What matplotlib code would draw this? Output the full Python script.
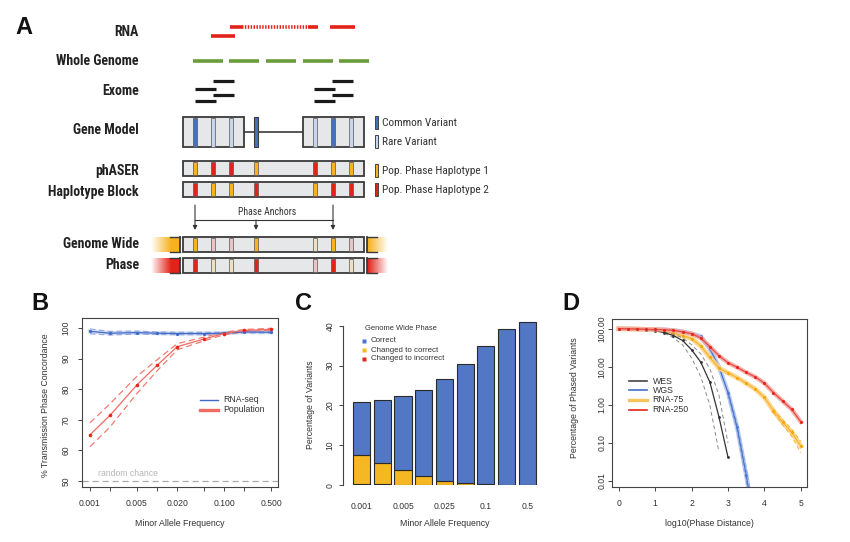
import numpy as np
import matplotlib
matplotlib.use('Agg')
import matplotlib.pyplot as plt
from matplotlib.patches import Rectangle
from matplotlib.ticker import NullLocator
import logging
logging.getLogger('matplotlib.font_manager').setLevel(logging.ERROR)

plt.rcParams['font.family'] = ['Liberation Sans', 'DejaVu Sans']
NARROW = ['Roboto Condensed', 'Liberation Sans Narrow', 'Liberation Sans', 'DejaVu Sans']

# ---------------- data ----------------
# panel A (schematic)
row_labels = ['RNA', 'Whole Genome', 'Exome', 'Gene Model',
              'phASER', 'Haplotype Block', 'Genome Wide', 'Phase']
variant_kind = ['common', 'rare', 'rare', 'common', 'rare', 'common', 'rare']
hap1 = ['O', 'R', 'R', 'O', 'R', 'O', 'O']
hap2 = ['R', 'O', 'O', 'R', 'O', 'R', 'R']
gw1 = ['O', 'r', 'r', 'O', 'o', 'O', 'r']   # lower case = faded
gw2 = ['R', 'o', 'o', 'R', 'r', 'R', 'o']

# panel B
maf_b = [0.001, 0.002, 0.005, 0.01, 0.02, 0.05, 0.1, 0.2, 0.5]
maf_b_labels = ['0.001', '', '0.005', '', '0.020', '', '0.100', '', '0.500']
rna_conc = [98.9, 98.3, 98.5, 98.3, 98.2, 98.2, 98.3, 98.7, 98.6]
rna_ci = [0.8, 0.6, 0.5, 0.4, 0.4, 0.4, 0.3, 0.3, 0.3]
pop_conc = [65.1, 71.5, 81.4, 87.8, 93.9, 96.4, 98.2, 99.2, 99.6]
pop_ci = [3.9, 3.8, 2.8, 1.8, 1.0, 0.6, 0.4, 0.3, 0.3]

# panel C
maf_c = ['0.001', '0.0025', '0.005', '0.01', '0.025', '0.05', '0.1', '0.25', '0.5']
maf_c_shown = ['0.001', '', '0.005', '', '0.025', '', '0.1', '', '0.5']
total_pct = [20.8, 21.4, 22.5, 24.0, 26.7, 30.3, 34.8, 39.2, 40.8]
changed_correct_top = [7.7, 5.7, 3.8, 2.4, 1.2, 0.7, 0.35, 0.1, 0.0]
changed_incorrect = [0.35, 0.25, 0.15, 0.1, 0.05, 0.05, 0.05, 0.05, 0.02]

# panel D
x_dist = [0.0, 0.25, 0.5, 0.75, 1.0, 1.25, 1.5, 1.75, 2.0, 2.25, 2.5,
          2.75, 3.0, 3.25, 3.5, 3.75, 4.0, 4.25, 4.5, 4.75, 5.0]
rna250 = [100, 99, 98, 96.5, 95.5, 94, 90, 83, 74, 57, 34,
          19.5, 12.8, 9.7, 7.1, 5.4, 3.7, 2.1, 1.26, 0.76, 0.36]
rna75 = [100, 99, 97.5, 95.5, 93, 88, 77, 65, 55, 35, 17.7,
         9.3, 6.9, 5.2, 3.7, 2.6, 1.57, 0.70, 0.35, 0.19, 0.083]
x_wes = [0.0, 0.25, 0.5, 0.75, 1.0, 1.25, 1.5, 1.75, 2.0, 2.25, 2.5, 2.75, 3.0]
wes = [100, 99.5, 98, 95, 89, 79, 66, 49, 28, 13.3, 4.0, 0.49, 0.042]
x_wes_lo = [1.25, 1.5, 1.75, 2.0, 2.25, 2.5, 2.75]
wes_lo = [76, 58, 38, 17, 5.5, 1.0, 0.058]
x_wes_hi = [1.25, 1.5, 1.75, 2.0, 2.25, 2.5, 2.75, 3.0]
wes_hi = [82, 72, 58, 38, 22, 9, 1.8, 0.1]
x_wgs = [0.0, 0.25, 0.5, 0.75, 1.0, 1.25, 1.5, 1.75, 2.0, 2.25, 2.5, 2.75, 3.0, 3.25, 3.5, 3.75]
wgs = [100, 99, 98, 96.5, 95.5, 94, 90, 83, 74, 63, 30, 10, 2.1, 0.26, 0.0145, 0.0005]
x_wgs_ci = [3.0, 3.25, 3.5, 3.75]
wgs_lo = [1.8, 0.2, 0.01, 0.0003]
wgs_hi = [2.4, 0.32, 0.022, 0.001]
x_r75_ci = [4.25, 4.5, 4.75, 5.0]
r75_lo = [0.62, 0.3, 0.15, 0.055]
r75_hi = [0.78, 0.41, 0.23, 0.11]

# ---------------- colours ----------------
ORANGE, RED = '#f7b21f', '#e2231a'
FADE = {'O': ORANGE, 'R': RED, 'o': '#f1e0c0', 'r': '#edc3c3'}
BLUE_C, BLUE_R = '#4a6fbd', '#c8d5ef'
BOXFILL, EDGE = '#e6e7e8', '#3a3a3a'

W, H = 850, 542
fig = plt.figure(figsize=(W / 100, H / 100), dpi=100)


def px_axes(l, t, r, b):
    return fig.add_axes([l / W, 1 - b / H, (r - l) / W, (b - t) / H])


# overlay axis in pixel coordinates
ov = fig.add_axes([0, 0, 1, 1], zorder=10)
ov.patch.set_visible(False)
ov.axis('off')

# ---------------- panel A ----------------
label_y = [32, 61, 91, 130, 171, 192, 244, 265]
for lab, yy in zip(row_labels, label_y):
    ov.text(139, yy, lab, ha='right', va='center', fontsize=10,
            fontweight='bold', family=NARROW, color='#222222')

# RNA reads
ov.plot([230, 242], [27, 27], color=RED, lw=2.6, solid_capstyle='butt')
ov.plot([242, 308], [27, 27], color=RED, lw=2.6, ls=(0, (0.4, 0.4)))
ov.plot([308, 318], [27, 27], color=RED, lw=2.6, solid_capstyle='butt')
ov.plot([330, 355], [27, 27], color=RED, lw=2.6, solid_capstyle='butt')
ov.plot([211, 235], [36, 36], color=RED, lw=2.6, solid_capstyle='butt')

# whole genome reads
for x0 in [193, 229, 266, 303, 339]:
    ov.plot([x0, x0 + 30], [61, 61], color='#6a9c3c', lw=2.6, solid_capstyle='butt')

# exome reads
for gx in [195, 314]:
    ov.plot([gx + 18, gx + 39], [81, 81], color='#1a1a1a', lw=2.3, solid_capstyle='butt')
    ov.plot([gx, gx + 21], [88.7, 88.7], color='#1a1a1a', lw=2.3, solid_capstyle='butt')
    ov.plot([gx + 18, gx + 39], [95, 95], color='#1a1a1a', lw=2.3, solid_capstyle='butt')
    ov.plot([gx, gx + 21], [100.7, 100.7], color='#1a1a1a', lw=2.3, solid_capstyle='butt')

var_x = [195, 213, 231, 256, 315, 333, 351]


def stripe(x, y0, y1, col):
    ov.add_patch(Rectangle((x - 2, y0), 4, y1 - y0, facecolor=col,
                           edgecolor='#555555', lw=0.5, zorder=4))


# gene model
ov.plot([244, 303], [132, 132], color=EDGE, lw=1.2, zorder=2)
for x0, x1 in [(183, 244), (303, 364)]:
    ov.add_patch(Rectangle((x0, 117), x1 - x0, 30, facecolor=BOXFILL,
                           edgecolor=EDGE, lw=1.3, zorder=3))
for x, kind in zip(var_x, variant_kind):
    if kind == 'common' and x == 256:
        ov.add_patch(Rectangle((254, 117), 4, 30, facecolor=BLUE_C,
                               edgecolor=EDGE, lw=0.8, zorder=4))
    else:
        stripe(x, 117.5, 146.5, BLUE_C if kind == 'common' else BLUE_R)

# legend for variants
for yy, col, txt in [(116, BLUE_C, 'Common Variant'), (135, BLUE_R, 'Rare Variant'),
                     (164, ORANGE, 'Pop. Phase Haplotype 1'),
                     (183, RED, 'Pop. Phase Haplotype 2')]:
    ov.add_patch(Rectangle((375, yy), 3.5, 13, facecolor=col, edgecolor='#444444', lw=0.7))
    ov.text(382, yy + 6.8, txt, ha='left', va='center', fontsize=8.2,
            family=NARROW, color='#333333')


def hap_row(y0, y1, cols):
    ov.add_patch(Rectangle((183, y0), 181, y1 - y0, facecolor=BOXFILL,
                           edgecolor=EDGE, lw=1.3, zorder=3))
    for x, c in zip(var_x, cols):
        stripe(x, y0 + 0.6, y1 - 0.6, FADE[c])


hap_row(161, 176, hap1)
hap_row(182, 197, hap2)
hap_row(237, 252, gw1)
hap_row(258, 273, gw2)

# phase anchors
ov.plot([195, 333], [220, 220], color='#333333', lw=0.8)
for x, ytop in [(195, 205), (256, 220), (333, 205)]:
    ov.annotate('', xy=(x, 230), xytext=(x, ytop),
                arrowprops=dict(arrowstyle='-|>', lw=0.8, color='#333333',
                                mutation_scale=6, shrinkA=0, shrinkB=0))
ov.text(267, 212, 'Phase Anchors', ha='center', va='center', fontsize=7.0,
        family=NARROW, color='#333333')


def grad_bar(x0, x1, y0, y1, col, fade_left):
    rgb = matplotlib.colors.to_rgb(col)
    n = 100
    a = np.linspace(0, 1, n) if fade_left else np.linspace(1, 0, n)
    a = np.clip(a * 1.5 - 0.05, 0, 1) if fade_left else np.clip(a * 1.5 - 0.45, 0, 1)
    img = np.zeros((2, n, 4))
    img[..., :3] = rgb
    img[..., 3] = a
    ov.imshow(img, extent=(x0, x1, y1, y0), aspect='auto', interpolation='bilinear', zorder=2)
    xe = x1 if fade_left else x0
    ov.plot([xe, xe], [y0, y1], color=EDGE, lw=1.3, zorder=3)
    seg = (x1 - 10, x1) if fade_left else (x0, x0 + 10)
    ov.plot(seg, [y0, y0], color=EDGE, lw=1.0, zorder=3)
    ov.plot(seg, [y1, y1], color=EDGE, lw=1.0, zorder=3)


grad_bar(150, 180, 237, 252, ORANGE, True)
grad_bar(150, 180, 258, 273, RED, True)
grad_bar(367, 397, 237, 252, ORANGE, False)
grad_bar(367, 397, 258, 273, RED, False)

ov.set_xlim(0, W)
ov.set_ylim(H, 0)

# panel letters
for txt, x, y in [('A', 24, 28), ('B', 40, 304), ('C', 304, 304), ('D', 571, 304)]:
    ov.text(x, y, txt, ha='center', va='center', fontsize=17, fontweight='bold', color='#111111')


def style_axes(ax):
    for s in ax.spines.values():
        s.set_color('#444444')
        s.set_linewidth(0.8)
    ax.tick_params(labelsize=6.2, length=3, width=0.7, color='#444444',
                   labelcolor='#333333')


# ---------------- panel B ----------------
axb = px_axes(82, 318, 278, 487)
style_axes(axb)
axb.set_xscale('log')
axb.set_xlim(10 ** -3.119, 10 ** -0.197)
axb.set_ylim(48.04, 103.27)
rna_lo = np.array(rna_conc) - np.array(rna_ci)
rna_hi = np.array(rna_conc) + np.array(rna_ci)
pop_lo = np.array(pop_conc) - np.array(pop_ci)
pop_hi = np.array(pop_conc) + np.array(pop_ci)
axb.axhline(50, color='#aaaaaa', ls=(0, (5, 3)), lw=0.9)
axb.text(0.00133, 50.9, 'random chance', fontsize=6.2, color='#b5b5b5', va='bottom')
axb.plot(maf_b, rna_conc, color='#b6c7ea', lw=3, alpha=0.6)
axb.plot(maf_b, rna_lo, color='#8ea6dc', lw=0.8, ls=(0, (5, 3)))
axb.plot(maf_b, rna_hi, color='#8ea6dc', lw=0.8, ls=(0, (5, 3)))
axb.plot(maf_b, pop_lo, color='#f07a72', lw=0.9, ls=(0, (5, 3)))
axb.plot(maf_b, pop_hi, color='#f07a72', lw=0.9, ls=(0, (5, 3)))
axb.plot(maf_b, rna_conc, color='#4169c8', lw=0.9, marker='o', ms=2.3,
         mfc='#4169c8', mec='none')
axb.plot(maf_b, pop_conc, color='#f06a60', lw=0.9, marker='o', ms=2.6,
         mfc='#e8261e', mec='none')
axb.set_xticks(maf_b, labels=maf_b_labels)
axb.xaxis.set_minor_locator(NullLocator())
axb.set_yticks([50, 60, 70, 80, 90, 100])
axb.tick_params(axis='x', pad=6)
axb.tick_params(axis='y', pad=5, labelrotation=90)
for lb in axb.get_yticklabels():
    lb.set_va('center')

ov.plot([200, 218], [400, 400], color='#4169c8', lw=1.0)
ov.plot([200, 218], [410, 410], color='#f06a60', lw=2.4)
ov.text(223, 400, 'RNA-seq', fontsize=6.3, va='center', color='#333333')
ov.text(223, 410, 'Population', fontsize=6.3, va='center', color='#333333')
ov.text(46, 405, '% Transmission Phase Concordance', rotation=90, fontsize=6.3,
        ha='center', va='center', color='#333333')
ov.text(180, 524, 'Minor Allele Frequency', fontsize=6.3, ha='center', va='center', color='#333333')

# ---------------- panel C ----------------
axc = px_axes(343, 317.7, 537.6, 485.3)
style_axes(axc)
xc = np.arange(len(maf_c))
inc = np.array(changed_incorrect)
to_corr = np.array(changed_correct_top) - inc
to_corr = np.clip(to_corr, 0, None)
correct = np.array(total_pct) - np.array(changed_correct_top)
bar_kw = dict(width=0.833, edgecolor='#2a2a2a', linewidth=0.8)
axc.bar(xc, inc, color='#d42a20', **bar_kw)
axc.bar(xc, to_corr, bottom=inc, color='#f6b822', **bar_kw)
axc.bar(xc, correct, bottom=inc + to_corr, color='#5277c4', **bar_kw)
axc.set_xlim(-0.9, 8.5)
axc.set_ylim(0, 42)
for s in ['top', 'right', 'bottom']:
    axc.spines[s].set_visible(False)
axc.spines['left'].set_bounds(0, 40)
axc.set_yticks([0, 10, 20, 30, 40])
axc.set_xticks(xc, labels=maf_c_shown)
axc.tick_params(axis='x', length=0, pad=12)
axc.tick_params(axis='y', pad=3, labelrotation=90)
for lb in axc.get_yticklabels():
    lb.set_va('center')

ov.text(365, 328.7, 'Genome Wide Phase', fontsize=5.4, va='center', color='#333333')
for yy, col, txt in [(341, '#4a74d0', 'Correct'), (350, '#f6b822', 'Changed to correct'),
                     (359, '#d42a20', 'Changed to incorrect')]:
    ov.plot([364], [yy], marker='s', ms=2.8, color=col, mec='none')
    ov.text(370.7, yy, txt, fontsize=5.7, va='center', color='#333333')
ov.text(311, 405, 'Percentage of Variants', rotation=90, fontsize=6.3,
        ha='center', va='center', color='#333333')
ov.text(444.5, 524, 'Minor Allele Frequency', fontsize=6.3, ha='center', va='center', color='#333333')

# ---------------- panel D ----------------
axd = px_axes(612.3, 319.3, 807.3, 486.7)
style_axes(axd)
axd.set_yscale('log')
axd.set_xlim(-0.18, 5.18)
axd.set_ylim(10 ** -2.15, 10 ** 2.247)

axd.plot(x_wgs, wgs, color='#a9c0ea', lw=3.2, alpha=0.8)
axd.plot(x_wgs_ci, wgs_lo, color='#8ea6dc', lw=0.7, ls=(0, (4, 3)))
axd.plot(x_wgs_ci, wgs_hi, color='#8ea6dc', lw=0.7, ls=(0, (4, 3)))
axd.plot(x_wgs, wgs, color='#4a74d0', lw=0.9, marker='o', ms=2, mec='none')
axd.plot(x_dist, rna75, color='#fcd588', lw=3.5, alpha=0.9)
axd.plot(x_r75_ci, r75_lo, color='#f9b234', lw=0.7, ls=(0, (4, 3)))
axd.plot(x_r75_ci, r75_hi, color='#f9b234', lw=0.7, ls=(0, (4, 3)))
axd.plot(x_dist, rna75, color='#f9b234', lw=0.9, marker='o', ms=2.2, mfc='#f5a800', mec='none')
axd.plot(x_wes_lo, wes_lo, color='#8a8a8a', lw=0.7, ls=(0, (4, 3)))
axd.plot(x_wes_hi, wes_hi, color='#8a8a8a', lw=0.7, ls=(0, (4, 3)))
axd.plot(x_wes, wes, color='#333333', lw=0.9, marker='o', ms=2, mec='none')
axd.plot(x_dist, rna250, color='#f4a29c', lw=3.2, alpha=0.8)
axd.plot(x_dist, rna250, color='#ea4a40', lw=0.9, marker='o', ms=2.2, mfc='#e8241c', mec='none')

axd.set_xticks([0, 1, 2, 3, 4, 5])
axd.set_yticks([0.01, 0.1, 1, 10, 100], labels=['0.01', '0.10', '1.00', '10.00', '100.00'])
axd.yaxis.set_minor_locator(NullLocator())
axd.tick_params(axis='x', pad=6)
axd.tick_params(axis='y', pad=1, labelrotation=90)
for lb in axd.get_yticklabels():
    lb.set_va('center')

for yy, col, lw, txt in [(381, '#444444', 1.2, 'WES'), (390.3, '#3f6fcf', 1.2, 'WGS'),
                         (400, '#f9c55a', 2.4, 'RNA-75'), (409.7, '#e8241c', 1.2, 'RNA-250')]:
    ov.plot([629, 647], [yy, yy], color=col, lw=lw)
    ov.text(652.7, yy, txt, fontsize=6.3, va='center', color='#333333')
ov.text(575, 398, 'Percentage of Phased Variants', rotation=90, fontsize=6.3,
        ha='center', va='center', color='#333333')
ov.text(709.7, 524, 'log10(Phase Distance)', fontsize=6.3, ha='center', va='center', color='#333333')

fig.savefig('out.png', dpi=100)
